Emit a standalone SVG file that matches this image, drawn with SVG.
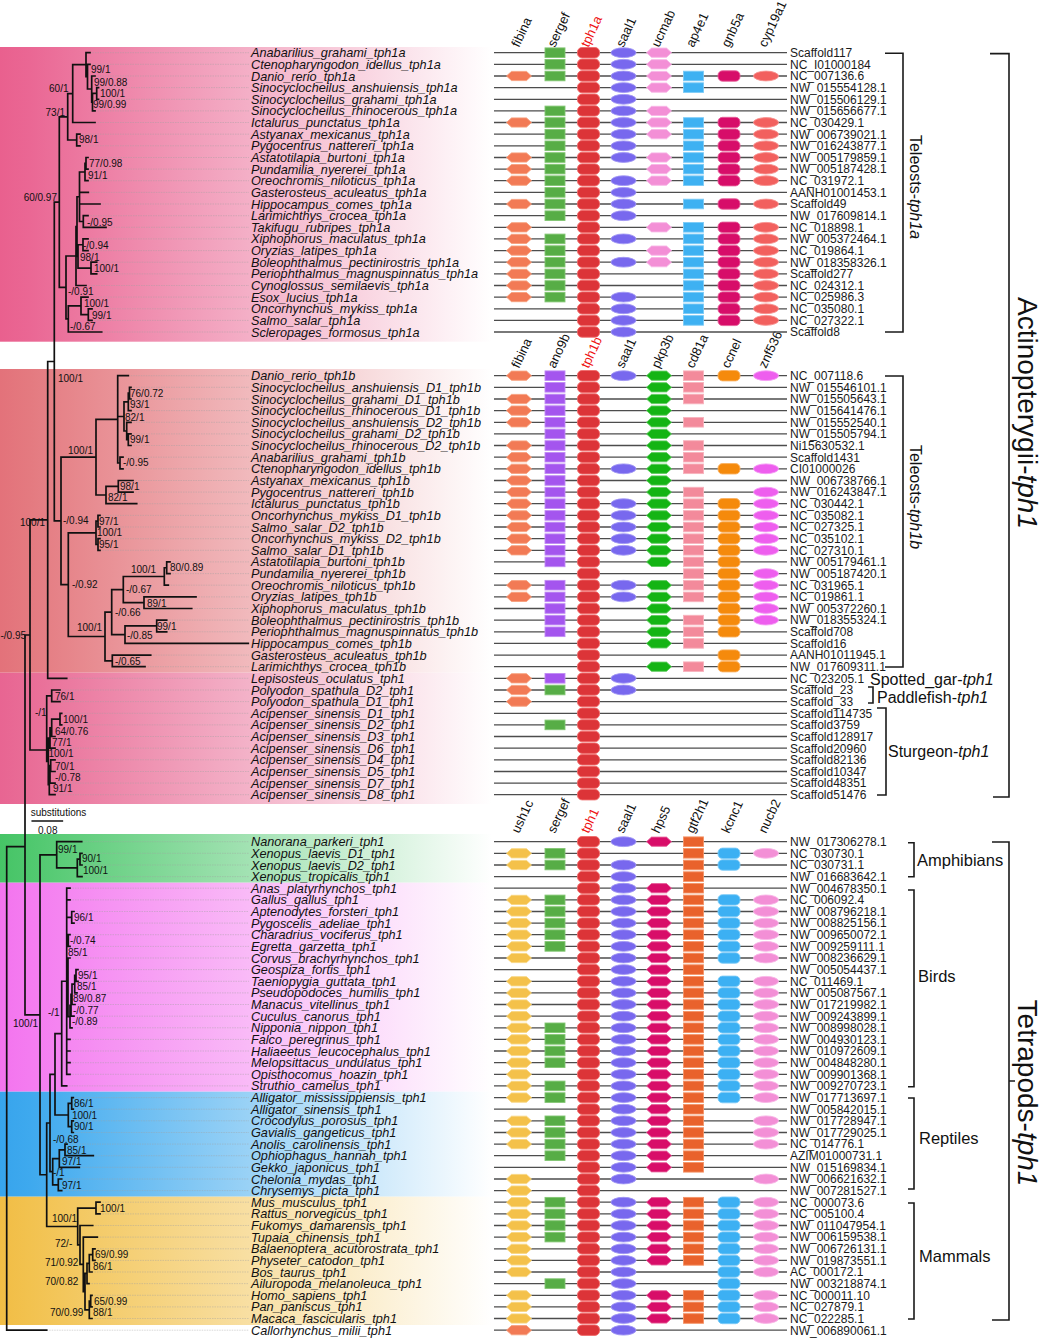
<svg xmlns="http://www.w3.org/2000/svg" width="1041" height="1339" viewBox="0 0 1041 1339">
<style>
.ln{stroke:#4d4d4d;stroke-width:1.3;fill:none}
.acc{font-family:"Liberation Sans",Arial,sans-serif;font-size:12px;fill:#1a1a1a}
.sp{font-family:"Liberation Sans",Arial,sans-serif;font-size:12.7px;font-style:italic;fill:#111}
.bs{font-family:"Liberation Sans",Arial,sans-serif;font-size:10px;fill:#111}
.gh{font-family:"Liberation Sans",Arial,sans-serif;font-size:13px;fill:#111}
.red{fill:#ee1111}
.tr{fill:none;stroke:#111;stroke-width:1.7;stroke-linecap:square}
.ld{fill:none;stroke:#a0a0a0;stroke-width:0.6;stroke-dasharray:1.5 1;opacity:.7}
.br{fill:none;stroke:#1a1a1a;stroke-width:1.6}
.bl{font-family:"Liberation Sans",Arial,sans-serif;font-size:16.5px;fill:#111}
.big{font-family:"Liberation Sans",Arial,sans-serif;font-size:28px;fill:#111}
.it{font-style:italic}
</style>
<defs>
<linearGradient id="gA" x1="0" x2="1" y1="0" y2="0"><stop offset="0" stop-color="#e9608e"/><stop offset=".06" stop-color="#ea6794"/><stop offset="1" stop-color="#fff"/></linearGradient>
<linearGradient id="gB" x1="0" x2="1" y1="0" y2="0"><stop offset="0" stop-color="#e3727a"/><stop offset=".06" stop-color="#e47a80"/><stop offset="1" stop-color="#fff"/></linearGradient>
<linearGradient id="gC" x1="0" x2="1" y1="0" y2="0"><stop offset="0" stop-color="#e86592"/><stop offset=".06" stop-color="#e96d97"/><stop offset="1" stop-color="#fff"/></linearGradient>
<linearGradient id="gD" x1="0" x2="1" y1="0" y2="0"><stop offset="0" stop-color="#46c466"/><stop offset=".06" stop-color="#4fc86e"/><stop offset="1" stop-color="#fff"/></linearGradient>
<linearGradient id="gE" x1="0" x2="1" y1="0" y2="0"><stop offset="0" stop-color="#f374ee"/><stop offset=".06" stop-color="#f47cf0"/><stop offset="1" stop-color="#fff"/></linearGradient>
<linearGradient id="gF" x1="0" x2="1" y1="0" y2="0"><stop offset="0" stop-color="#37a4ec"/><stop offset=".06" stop-color="#3ea9ee"/><stop offset="1" stop-color="#fff"/></linearGradient>
<linearGradient id="gG" x1="0" x2="1" y1="0" y2="0"><stop offset="0" stop-color="#f1bd45"/><stop offset=".06" stop-color="#f2c24f"/><stop offset="1" stop-color="#fff"/></linearGradient>
<polygon id="hx" points="-12.5,0 -7.5,-4.6 7.5,-4.6 12.5,0 7.5,4.6 -7.5,4.6" stroke-width="0.9"/>
<rect id="rc" x="-10" y="-4.8" width="20" height="9.6" stroke-width="0.9"/>
<rect id="pl" x="-11" y="-5.2" width="22" height="10.4" rx="4.5" stroke-width="0.9"/>
<ellipse id="el" rx="12.5" ry="4.9" stroke-width="0.9"/>
<use id="fib" href="#hx" fill="#f27a55" stroke="#f7a07e"/>
<use id="serg" href="#rc" fill="#57ad46" stroke="#83c673"/>
<use id="tph" href="#pl" fill="#dc3438" stroke="#ef6a6a"/>
<use id="saal" href="#el" fill="#7868ee" stroke="#a096f4"/>
<use id="ucm" href="#hx" fill="#f38fd6" stroke="#f8b6e6"/>
<use id="ap4" href="#rc" fill="#3eb1f2" stroke="#7ccbf7"/>
<use id="gnb" href="#pl" fill="#d70d69" stroke="#e65d98"/>
<use id="cyp" href="#el" fill="#f2605e" stroke="#f79290"/>
<use id="ano" href="#rc" fill="#a455ee" stroke="#c18cf4"/>
<use id="pkp" href="#hx" fill="#14b414" stroke="#5fcc5f"/>
<use id="cd8" href="#rc" fill="#f38a9b" stroke="#f8b3bd"/>
<use id="ccn" href="#pl" fill="#f58a0c" stroke="#f9b060"/>
<use id="znf" href="#el" fill="#ee5eee" stroke="#f59cf5"/>
<use id="ush" href="#hx" fill="#f4c14a" stroke="#f8d680"/>
<use id="hps" href="#hx" fill="#d80d69" stroke="#e65d98"/>
<use id="gtf" href="#rc" fill="#e9622c" stroke="#f49468"/>
<use id="kcn" href="#pl" fill="#3cb0f3" stroke="#7ccbf7"/>
<use id="nuc" href="#el" fill="#f38fd6" stroke="#f8b6e6"/>
</defs>
<rect width="1041" height="1339" fill="#fff"/>
<g id="bands">
<rect x="0" y="47" width="492" height="294.7" fill="url(#gA)"/>
<rect x="0" y="369" width="492" height="303.7" fill="url(#gB)"/>
<rect x="0" y="672.7" width="492" height="131.3" fill="url(#gC)"/>
<rect x="0" y="834" width="492" height="48.7" fill="url(#gD)"/>
<rect x="0" y="882.7" width="492" height="209" fill="url(#gE)"/>
<rect x="0" y="1091.7" width="492" height="105" fill="url(#gF)"/>
<rect x="0" y="1196.7" width="492" height="128.3" fill="url(#gG)"/>
</g>
<g id="connectors">
<path class="ld" d="M90 52.7H249M90 64.3H249M95 76H249M98.5 87.6H249M98.5 99.3H249M95 110.9H249M95 122.5H249M80 134.2H249M80 145.8H249M88 157.5H249M88 169.1H249M88 180.7H249M88.3 192.4H249M100 204H249M88 215.7H249M106 227.3H249M88 238.9H249M88 250.6H249M96.7 262.2H249M96.7 273.9H249M86 285.5H249M88 297.1H249M92 308.8H249M92 320.4H249M101.7 332H249M128.3 375.7H249M131 387.3H249M131 399H249M131 410.6H249M131 422.3H249M131 433.9H249M131 445.5H249M123 457.2H249M123 468.8H249M133 480.5H249M133 492.1H249M136.7 503.7H249M100 515.4H249M100 527H249M100 538.7H249M100 550.3H249M170 561.9H249M170 573.6H249M168.3 585.2H249M196 596.9H249M191.7 608.5H249M166.7 620.1H249M166.7 631.8H249M150.7 655.1H249M145 666.7H249M66.7 678.3H249M60 690H249M60 701.6H249M61.7 713.3H249M61.7 724.9H249M55 736.5H249M55 748.2H249M55 759.8H249M55 771.5H249M55 783.1H249M55 794.7H249M81.7 841.7H249M82 853.3H249M82 865H249M82 876.6H249M70 888.2H249M70 899.9H249M74 911.5H249M74 923.1H249M70 934.7H249M70 946.4H249M70 958H249M78 969.6H249M78 981.3H249M77 992.9H249M75 1004.5H249M74 1016.2H249M72 1027.8H249M70 1039.4H249M70 1051H249M70 1062.7H249M70 1074.3H249M66.7 1085.9H249M73.3 1097.6H249M73.3 1109.2H249M73.3 1120.8H249M73.3 1132.5H249M67 1144.1H249M93.3 1155.7H249M79.3 1167.3H249M61.7 1179H249M61.7 1190.6H249M100 1202.2H249M100 1213.9H249M92.7 1225.5H249M97.3 1237.1H249M95 1248.8H249M95 1260.4H249M92 1272H249M89 1283.6H249M92 1295.3H249M92 1306.9H249M92 1318.5H249M46.7 1330.2H249"/>
<path class="tr" d="M86 52.7V76.7M86 52.7H90M86 76.7H87.5M87.5 64.3V89M87.5 64.3H90M87.5 89H91.7M91.7 76V102.2M91.7 76H95M91.7 102.2H92.5M92.5 93.4V110.9M92.5 110.9H95M92.5 93.4H96.7M96.7 87.6V99.3M96.7 87.6H98.5M96.7 99.3H98.5
M72.7 64.7V122.5M72.7 64.7H86M72.7 122.5H95
M76.7 134.2V145.8M76.7 134.2H80M76.7 145.8H80
M67.7 93.6V140M67.7 93.6H72.7M67.7 140H76.7
M86 157.5V169.1M86 157.5H88M86 169.1H88M85 163.3V180.7M85 163.3H86M85 180.7H88
M79.5 172V221.5M79.5 172H85M79.5 192.4H88.3M79.5 204H100M79.5 221.5H83.3
M83.3 215.7V227.3M83.3 215.7H88M83.3 227.3H106
M83 238.9V250.6M83 238.9H88M83 250.6H88
M91 262.2V273.9M91 262.2H96.7M91 273.9H96.7
M78 244.75V268.05M78 244.75H83M78 268.05H91
M77 196.75V256.4M77 196.75H79.5M77 256.4H78
M76 226.6V285.5M76 226.6H77M76 285.5H86
M88.3 308.8V320.4M88.3 308.8H92M88.3 320.4H92
M81 297.1V314.6M81 297.1H88M81 314.6H88.3
M68.3 305.85V332M68.3 305.85H81M68.3 332H101.7
M66 256V318.9M66 256H76M66 318.9H68.3
M59.3 116.8V287.45M59.3 116.8H67.7M59.3 287.45H66
M117.7 375.7V463M117.7 375.7H128.3M117.7 416.5H124M117.7 463H120
M129.5 387.3V399M129.5 387.3H131M129.5 399H131M128.3 393.15V410.6M128.3 393.15H129.5M128.3 410.6H131
M128.3 433.9V445.5M128.3 433.9H131M128.3 445.5H131M126.7 422.3V439.7M126.7 422.3H131M126.7 439.7H128.3
M124 401.9V431M124 401.9H128.3M124 431H126.7
M120 457.2V468.8M120 457.2H123M120 468.8H123
M118.3 480.5V492.1M118.3 480.5H133M118.3 492.1H133M106 486.3V503.7M106 486.3H118.3M106 503.7H136.7
M96 419.4V495M96 419.4H117.7M96 495H106
M98 515.4V527M98 515.4H100M98 527H100M98 538.7V550.3M98 538.7H100M98 550.3H100M96 521.2V544.5M96 521.2H98M96 544.5H98
M166.7 561.9V573.6M166.7 561.9H170M166.7 573.6H170M164.3 567.75V585.2M164.3 567.75H166.7M164.3 585.2H168.3
M144 596.9V608.5M144 596.9H196M144 608.5H191.7
M123.3 576.5V602.7M123.3 576.5H164.3M123.3 602.7H144
M156.7 620.1V631.8M156.7 620.1H166.7M156.7 631.8H166.7
M125 625.95V643.4M125 625.95H156.7M125 643.4H248.3
M111.7 589.6V634.7M111.7 589.6H123.3M111.7 634.7H125
M112.3 655.1V666.7M112.3 655.1H150.7M112.3 666.7H145
M105 612.15V660.9M105 612.15H111.7M105 660.9H112.3
M68.3 532.85V636.5M68.3 532.85H96M68.3 636.5H105
M61 457.2V584.7M61 457.2H96M61 584.7H68.3
M54.3 202.1V520.95M54.3 202.1H59.3M54.3 520.95H61
M47.7 361.5V678.3M47.7 361.5H54.3M47.7 678.3H66.7
M51.7 690V701.6M51.7 690H60M51.7 701.6H60
M60 713.3V724.9M60 713.3H61.7M60 724.9H61.7M51.7 719.1V736.5M51.7 719.1H60M51.7 736.5H55M50 727.8V748.2M50 727.8H51.7M50 748.2H55
M50.7 759.8V771.5M50.7 759.8H55M50.7 771.5H55M50 765.65V783.1M50 765.65H50.7M50 783.1H55M49.3 774.4V794.7M49.3 774.4H50M49.3 794.7H55
M48.3 738V784.55M48.3 738H50M48.3 784.55H49.3
M46.7 695.8V761.3M46.7 695.8H51.7
M30 519.9V750M30 519.9H47.7M30 750H46.7
M25 635V1014.8M25 635H30M25 1014.8H40
M6.7 846.7V1330.2M6.7 846.7H25M6.7 1330.2H46.7
M80 853.3V865M80 853.3H82M80 865H82M77.3 859.15V876.6M77.3 859.15H80M77.3 876.6H82M56.7 841.7V867.9M56.7 841.7H81.7M56.7 867.9H77.3
M71.7 911.5V923.1M71.7 911.5H74M71.7 923.1H74M68.3 934.7V946.4M68.3 934.7H70M68.3 946.4H70
M76 969.6V981.3M76 969.6H78M76 981.3H78M74.7 975.45V992.9M74.7 975.45H76M74.7 992.9H77M72 984.2V1004.5M72 984.2H74.7M72 1004.5H75M71 994.35V1016.2M71 994.35H72M71 1016.2H74M70 1005.3V1027.8M70 1005.3H71M70 1027.8H72M68 958V1016.55M68 958H70M68 1016.55H70
M66.7 888.2V1074.3M66.7 888.2H70M66.7 899.9H70M66.7 917.3H71.7M66.7 940.55H68.3M66.7 987.3H68M66.7 1039.4H70M66.7 1051H70M66.7 1062.7H70M66.7 1074.3H70
M61.7 981.25V1085.9M61.7 981.25H66.7M61.7 1085.9H66.7
M71.7 1097.6V1109.2M71.7 1097.6H73.3M71.7 1109.2H73.3M71.7 1120.8V1132.5M71.7 1120.8H73.3M71.7 1132.5H73.3M68.3 1103.4V1126.65M68.3 1103.4H71.7M68.3 1126.65H71.7
M55 1033.6V1115M55 1033.6H61.7M55 1115H68.3
M65 1144.1V1155.7M65 1144.1H67M65 1155.7H93.3M59.3 1149.9V1167.3M59.3 1149.9H65M59.3 1167.3H79.3
M58.3 1179V1190.6M58.3 1179H61.7M58.3 1190.6H61.7M52.7 1158.6V1184.8M52.7 1158.6H59.3M52.7 1184.8H58.3
M50 1074.3V1171.7M50 1074.3H55M50 1171.7H52.7
M96 1202.2V1213.9M96 1202.2H100M96 1213.9H100M92.7 1248.8V1260.4M92.7 1248.8H95M92.7 1260.4H95M89.3 1254.6V1272M89.3 1254.6H92.7M89.3 1272H92
M90.7 1295.3V1306.9M90.7 1295.3H92M90.7 1306.9H92M89.3 1301.1V1318.5M89.3 1301.1H90.7M89.3 1318.5H92
M87 1263.3V1283.6M87 1263.3H89.3M87 1283.6H89M85 1273.45V1309.8M85 1273.45H87M85 1309.8H89.3M83.3 1237.1V1291.6M83.3 1237.1H97.3M83.3 1291.6H85M80 1225.5V1264.35M80 1225.5H92.7M80 1264.35H83.3M77.7 1208.05V1244.9M77.7 1208.05H96M77.7 1244.9H80
M46.7 1123V1226.5M46.7 1123H50M46.7 1226.5H77.7
M40 854.8V1174.75M40 854.8H56.7M40 1174.75H46.7"/>
<path class="tr" d="M32.3 821H62.3"/>
</g>
<g id="support" class="bs">
<text x="91" y="72.5">99/1</text><text x="94" y="86">99/0.88</text><text x="100" y="97">100/1</text><text x="93" y="108">99/0.99</text>
<text x="68.5" y="92" text-anchor="end">60/1</text><text x="65" y="115.5" text-anchor="end">73/1</text><text x="79" y="143">98/1</text>
<text x="89" y="167">77/0.98</text><text x="88" y="178.5">91/1</text><text x="57" y="200.5" text-anchor="end">60/0.97</text>
<text x="87" y="225.5">-/0.95</text><text x="83" y="249">-/0.94</text><text x="80" y="261">98/1</text><text x="94" y="272">100/1</text>
<text x="68" y="294.5">-/0.91</text><text x="84" y="307">100/1</text><text x="92" y="318.5">99/1</text><text x="70" y="329.5">-/0.67</text>
<text x="58" y="381.5">100/1</text><text x="130" y="396.5">76/0.72</text><text x="130" y="408">93/1</text><text x="125" y="421">82/1</text><text x="130" y="442.5">99/1</text>
<text x="93" y="454" text-anchor="end">100/1</text><text x="123" y="466">-/0.95</text><text x="120" y="490">98/1</text><text x="108" y="501">82/1</text>
<text x="45" y="525.5" text-anchor="end">100/1</text><text x="63" y="524">-/0.94</text><text x="99" y="524.5">97/1</text><text x="97" y="536">100/1</text><text x="99" y="547.5">95/1</text>
<text x="170" y="571">80/0.89</text><text x="131" y="573">100/1</text><text x="72" y="588">-/0.92</text><text x="126" y="593">-/0.67</text><text x="147" y="607">89/1</text>
<text x="115" y="615.5">-/0.66</text><text x="157" y="629.5">99/1</text><text x="102" y="631" text-anchor="end">100/1</text><text x="0.5" y="638.5">-/0.95</text><text x="127" y="638.5">-/0.85</text><text x="115" y="664.5">-/0.65</text>
<text x="55" y="700">76/1</text><text x="35" y="715.5">-/1</text><text x="63" y="722.5">100/1</text><text x="55" y="734.5">64/0.76</text><text x="52" y="745.5">77/1</text><text x="48.5" y="756.5">100/1</text>
<text x="55" y="769.5">70/1</text><text x="55" y="780.5">-/0.78</text><text x="53" y="792">91/1</text>
<text x="58" y="852.5">99/1</text><text x="82" y="862">90/1</text><text x="83" y="874">100/1</text>
<text x="74" y="921">96/1</text><text x="70" y="944">-/0.74</text><text x="68" y="956">85/1</text><text x="78" y="978.5">95/1</text><text x="77" y="990">85/1</text><text x="73" y="1002">89/0.87</text>
<text x="73" y="1013.5">-/0.77</text><text x="48" y="1015.5">-/1</text><text x="72" y="1025">-/0.89</text><text x="13" y="1027">100/1</text>
<text x="74" y="1107">86/1</text><text x="72" y="1118.5">100/1</text><text x="74" y="1130">90/1</text><text x="53" y="1143">-/0.68</text><text x="67" y="1153.5">85/1</text><text x="62" y="1165">97/1</text><text x="53" y="1175.5">-/1</text><text x="62" y="1188.5">97/1</text>
<text x="100" y="1212">100/1</text><text x="52" y="1222">100/1</text><text x="55" y="1246.5">72/-</text><text x="95" y="1257.5">69/0.99</text><text x="45" y="1266">71/0.92</text><text x="93" y="1269.5">86/1</text>
<text x="45" y="1284.5">70/0.82</text><text x="94" y="1304.5">65/0.99</text><text x="50" y="1316">70/0.99</text><text x="93" y="1315.5">88/1</text>
<text x="30.7" y="815.5">substitutions</text><text x="38" y="833.5">0.08</text>
</g>
<g id="gene-headers" class="gh">
<text transform="translate(519,48) rotate(-65)">fibina</text><text transform="translate(555,48) rotate(-65)">sergef</text><text class="red" transform="translate(588.5,48) rotate(-65)">tph1a</text><text transform="translate(623.5,48) rotate(-65)">saal1</text><text transform="translate(659,48) rotate(-65)">ucmab</text><text transform="translate(693.5,48) rotate(-65)">ap4e1</text><text transform="translate(729,48) rotate(-65)">gnb5a</text><text transform="translate(766,48) rotate(-65)">cyp19a1</text>
<text transform="translate(519,369) rotate(-65)">fibina</text><text transform="translate(555,369) rotate(-65)">ano9b</text><text class="red" transform="translate(588.5,369) rotate(-65)">tph1b</text><text transform="translate(623.5,369) rotate(-65)">saal1</text><text transform="translate(659,369) rotate(-65)">pkp3b</text><text transform="translate(693.5,369) rotate(-65)">cd81a</text><text transform="translate(729,369) rotate(-65)">ccnel</text><text transform="translate(766,369) rotate(-65)">znf536</text>
<text transform="translate(519,834) rotate(-65)">ush1c</text><text transform="translate(555,834) rotate(-65)">sergef</text><text class="red" transform="translate(588.5,834) rotate(-65)">tph1</text><text transform="translate(623.5,834) rotate(-65)">saal1</text><text transform="translate(659,834) rotate(-65)">hps5</text><text transform="translate(693.5,834) rotate(-65)">gtf2h1</text><text transform="translate(729,834) rotate(-65)">kcnc1</text><text transform="translate(766,834) rotate(-65)">nucb2</text>
</g>
<g id="rows">
<g id="t0" transform="translate(0,52.7)"><text class="sp" x="251" y="4.5">Anabarilius_grahami_tph1a</text><path class="ln" d="M494 0H787"/><use href="#serg" x="555"/><use href="#tph" x="588.5"/><use href="#saal" x="623.5"/><use href="#ucm" x="659"/><text class="acc" x="790" y="4.3">Scaffold117</text></g>
<g id="t1" transform="translate(0,64.3)"><text class="sp" x="251" y="4.5">Ctenopharyngodon_idellus_tph1a</text><path class="ln" d="M494 0H787"/><use href="#serg" x="555"/><use href="#tph" x="588.5"/><use href="#saal" x="623.5"/><use href="#ucm" x="659"/><text class="acc" x="790" y="4.3">NC_I01000184</text></g>
<g id="t2" transform="translate(0,76)"><text class="sp" x="251" y="4.5">Danio_rerio_tph1a</text><path class="ln" d="M494 0H787"/><use href="#fib" x="519"/><use href="#serg" x="555"/><use href="#tph" x="588.5"/><use href="#saal" x="623.5"/><use href="#ucm" x="659"/><use href="#ap4" x="693.5"/><use href="#gnb" x="729"/><use href="#cyp" x="766"/><text class="acc" x="790" y="4.3">NC_007136.6</text></g>
<g id="t3" transform="translate(0,87.6)"><text class="sp" x="251" y="4.5">Sinocyclocheilus_anshuiensis_tph1a</text><path class="ln" d="M494 0H787"/><use href="#tph" x="588.5"/><use href="#saal" x="623.5"/><use href="#ucm" x="659"/><use href="#ap4" x="693.5"/><text class="acc" x="790" y="4.3">NW_015554128.1</text></g>
<g id="t4" transform="translate(0,99.3)"><text class="sp" x="251" y="4.5">Sinocyclocheilus_grahami_tph1a</text><path class="ln" d="M494 0H787"/><use href="#tph" x="588.5"/><use href="#saal" x="623.5"/><text class="acc" x="790" y="4.3">NW_015506129.1</text></g>
<g id="t5" transform="translate(0,110.9)"><text class="sp" x="251" y="4.5">Sinocyclocheilus_rhinocerous_tph1a</text><path class="ln" d="M494 0H787"/><use href="#serg" x="555"/><use href="#tph" x="588.5"/><use href="#saal" x="623.5"/><use href="#ucm" x="659"/><text class="acc" x="790" y="4.3">NW_015656677.1</text></g>
<g id="t6" transform="translate(0,122.5)"><text class="sp" x="251" y="4.5">Ictalurus_punctatus_tph1a</text><path class="ln" d="M494 0H787"/><use href="#fib" x="519"/><use href="#serg" x="555"/><use href="#tph" x="588.5"/><use href="#saal" x="623.5"/><use href="#ucm" x="659"/><use href="#ap4" x="693.5"/><use href="#gnb" x="729"/><use href="#cyp" x="766"/><text class="acc" x="790" y="4.3">NC_030429.1</text></g>
<g id="t7" transform="translate(0,134.2)"><text class="sp" x="251" y="4.5">Astyanax_mexicanus_tph1a</text><path class="ln" d="M494 0H787"/><use href="#serg" x="555"/><use href="#tph" x="588.5"/><use href="#saal" x="623.5"/><use href="#ucm" x="659"/><use href="#ap4" x="693.5"/><use href="#gnb" x="729"/><use href="#cyp" x="766"/><text class="acc" x="790" y="4.3">NW_006739021.1</text></g>
<g id="t8" transform="translate(0,145.8)"><text class="sp" x="251" y="4.5">Pygocentrus_nattereri_tph1a</text><path class="ln" d="M494 0H787"/><use href="#serg" x="555"/><use href="#tph" x="588.5"/><use href="#saal" x="623.5"/><use href="#ap4" x="693.5"/><use href="#gnb" x="729"/><use href="#cyp" x="766"/><text class="acc" x="790" y="4.3">NW_016243877.1</text></g>
<g id="t9" transform="translate(0,157.5)"><text class="sp" x="251" y="4.5">Astatotilapia_burtoni_tph1a</text><path class="ln" d="M494 0H787"/><use href="#fib" x="519"/><use href="#serg" x="555"/><use href="#tph" x="588.5"/><use href="#saal" x="623.5"/><use href="#ucm" x="659"/><use href="#ap4" x="693.5"/><use href="#gnb" x="729"/><use href="#cyp" x="766"/><text class="acc" x="790" y="4.3">NW_005179859.1</text></g>
<g id="t10" transform="translate(0,169.1)"><text class="sp" x="251" y="4.5">Pundamilia_nyererei_tph1a</text><path class="ln" d="M494 0H787"/><use href="#fib" x="519"/><use href="#serg" x="555"/><use href="#tph" x="588.5"/><use href="#ucm" x="659"/><use href="#ap4" x="693.5"/><use href="#gnb" x="729"/><use href="#cyp" x="766"/><text class="acc" x="790" y="4.3">NW_005187428.1</text></g>
<g id="t11" transform="translate(0,180.7)"><text class="sp" x="251" y="4.5">Oreochromis_niloticus_tph1a</text><path class="ln" d="M494 0H787"/><use href="#fib" x="519"/><use href="#serg" x="555"/><use href="#tph" x="588.5"/><use href="#saal" x="623.5"/><use href="#ucm" x="659"/><use href="#ap4" x="693.5"/><use href="#gnb" x="729"/><use href="#cyp" x="766"/><text class="acc" x="790" y="4.3">NC_031972.1</text></g>
<g id="t12" transform="translate(0,192.4)"><text class="sp" x="251" y="4.5">Gasterosteus_aculeatus_tph1a</text><path class="ln" d="M494 0H787"/><use href="#serg" x="555"/><use href="#tph" x="588.5"/><use href="#saal" x="623.5"/><text class="acc" x="790" y="4.3">AANH01001453.1</text></g>
<g id="t13" transform="translate(0,204)"><text class="sp" x="251" y="4.5">Hippocampus_comes_tph1a</text><path class="ln" d="M494 0H787"/><use href="#fib" x="519"/><use href="#serg" x="555"/><use href="#tph" x="588.5"/><use href="#saal" x="623.5"/><use href="#ap4" x="693.5"/><use href="#gnb" x="729"/><use href="#cyp" x="766"/><text class="acc" x="790" y="4.3">Scaffold49</text></g>
<g id="t14" transform="translate(0,215.7)"><text class="sp" x="251" y="4.5">Larimichthys_crocea_tph1a</text><path class="ln" d="M494 0H787"/><use href="#serg" x="555"/><use href="#tph" x="588.5"/><use href="#saal" x="623.5"/><text class="acc" x="790" y="4.3">NW_017609814.1</text></g>
<g id="t15" transform="translate(0,227.3)"><text class="sp" x="251" y="4.5">Takifugu_rubripes_tph1a</text><path class="ln" d="M494 0H787"/><use href="#fib" x="519"/><use href="#tph" x="588.5"/><use href="#ucm" x="659"/><use href="#ap4" x="693.5"/><use href="#gnb" x="729"/><use href="#cyp" x="766"/><text class="acc" x="790" y="4.3">NC_018898.1</text></g>
<g id="t16" transform="translate(0,238.9)"><text class="sp" x="251" y="4.5">Xiphophorus_maculatus_tph1a</text><path class="ln" d="M494 0H787"/><use href="#fib" x="519"/><use href="#serg" x="555"/><use href="#tph" x="588.5"/><use href="#saal" x="623.5"/><use href="#ap4" x="693.5"/><use href="#gnb" x="729"/><use href="#cyp" x="766"/><text class="acc" x="790" y="4.3">NW_005372464.1</text></g>
<g id="t17" transform="translate(0,250.6)"><text class="sp" x="251" y="4.5">Oryzias_latipes_tph1a</text><path class="ln" d="M494 0H787"/><use href="#fib" x="519"/><use href="#serg" x="555"/><use href="#tph" x="588.5"/><use href="#ucm" x="659"/><use href="#ap4" x="693.5"/><use href="#gnb" x="729"/><use href="#cyp" x="766"/><text class="acc" x="790" y="4.3">NC_019864.1</text></g>
<g id="t18" transform="translate(0,262.2)"><text class="sp" x="251" y="4.5">Boleophthalmus_pectinirostris_tph1a</text><path class="ln" d="M494 0H787"/><use href="#fib" x="519"/><use href="#serg" x="555"/><use href="#tph" x="588.5"/><use href="#saal" x="623.5"/><use href="#ucm" x="659"/><use href="#ap4" x="693.5"/><use href="#gnb" x="729"/><use href="#cyp" x="766"/><text class="acc" x="790" y="4.3">NW_018358326.1</text></g>
<g id="t19" transform="translate(0,273.9)"><text class="sp" x="251" y="4.5">Periophthalmus_magnuspinnatus_tph1a</text><path class="ln" d="M494 0H787"/><use href="#fib" x="519"/><use href="#serg" x="555"/><use href="#tph" x="588.5"/><use href="#ap4" x="693.5"/><use href="#gnb" x="729"/><use href="#cyp" x="766"/><text class="acc" x="790" y="4.3">Scaffold277</text></g>
<g id="t20" transform="translate(0,285.5)"><text class="sp" x="251" y="4.5">Cynoglossus_semilaevis_tph1a</text><path class="ln" d="M494 0H787"/><use href="#fib" x="519"/><use href="#serg" x="555"/><use href="#tph" x="588.5"/><use href="#ap4" x="693.5"/><use href="#gnb" x="729"/><use href="#cyp" x="766"/><text class="acc" x="790" y="4.3">NC_024312.1</text></g>
<g id="t21" transform="translate(0,297.1)"><text class="sp" x="251" y="4.5">Esox_lucius_tph1a</text><path class="ln" d="M494 0H787"/><use href="#fib" x="519"/><use href="#serg" x="555"/><use href="#tph" x="588.5"/><use href="#saal" x="623.5"/><use href="#ap4" x="693.5"/><use href="#gnb" x="729"/><use href="#cyp" x="766"/><text class="acc" x="790" y="4.3">NC_025986.3</text></g>
<g id="t22" transform="translate(0,308.8)"><text class="sp" x="251" y="4.5">Oncorhynchus_mykiss_tph1a</text><path class="ln" d="M494 0H787"/><use href="#tph" x="588.5"/><use href="#saal" x="623.5"/><use href="#ap4" x="693.5"/><use href="#gnb" x="729"/><use href="#cyp" x="766"/><text class="acc" x="790" y="4.3">NC_035080.1</text></g>
<g id="t23" transform="translate(0,320.4)"><text class="sp" x="251" y="4.5">Salmo_salar_tph1a</text><path class="ln" d="M494 0H787"/><use href="#tph" x="588.5"/><use href="#saal" x="623.5"/><use href="#ap4" x="693.5"/><use href="#gnb" x="729"/><use href="#cyp" x="766"/><text class="acc" x="790" y="4.3">NC_027322.1</text></g>
<g id="t24" transform="translate(0,332)"><text class="sp" x="251" y="4.5">Scleropages_formosus_tph1a</text><path class="ln" d="M494 0H787"/><use href="#tph" x="588.5"/><use href="#saal" x="623.5"/><text class="acc" x="790" y="4.3">Scaffold8</text></g>

<g id="m0" transform="translate(0,375.7)"><text class="sp" x="251" y="4.5">Danio_rerio_tph1b</text><path class="ln" d="M494 0H787"/><use href="#fib" x="519"/><use href="#ano" x="555"/><use href="#tph" x="588.5"/><use href="#saal" x="623.5"/><use href="#pkp" x="659"/><use href="#cd8" x="693.5"/><use href="#ccn" x="729"/><use href="#znf" x="766"/><text class="acc" x="790" y="4.3">NC_007118.6</text></g>
<g id="m1" transform="translate(0,387.3)"><text class="sp" x="251" y="4.5">Sinocyclocheilus_anshuiensis_D1_tph1b</text><path class="ln" d="M494 0H787"/><use href="#ano" x="555"/><use href="#tph" x="588.5"/><use href="#pkp" x="659"/><use href="#cd8" x="693.5"/><text class="acc" x="790" y="4.3">NW_015546101.1</text></g>
<g id="m2" transform="translate(0,399)"><text class="sp" x="251" y="4.5">Sinocyclocheilus_grahami_D1_tph1b</text><path class="ln" d="M494 0H787"/><use href="#fib" x="519"/><use href="#ano" x="555"/><use href="#tph" x="588.5"/><use href="#pkp" x="659"/><use href="#cd8" x="693.5"/><text class="acc" x="790" y="4.3">NW_015505643.1</text></g>
<g id="m3" transform="translate(0,410.6)"><text class="sp" x="251" y="4.5">Sinocyclocheilus_rhinocerous_D1_tph1b</text><path class="ln" d="M494 0H787"/><use href="#fib" x="519"/><use href="#ano" x="555"/><use href="#tph" x="588.5"/><use href="#pkp" x="659"/><text class="acc" x="790" y="4.3">NW_015641476.1</text></g>
<g id="m4" transform="translate(0,422.3)"><text class="sp" x="251" y="4.5">Sinocyclocheilus_anshuiensis_D2_tph1b</text><path class="ln" d="M494 0H787"/><use href="#fib" x="519"/><use href="#ano" x="555"/><use href="#tph" x="588.5"/><use href="#pkp" x="659"/><use href="#cd8" x="693.5"/><text class="acc" x="790" y="4.3">NW_015552540.1</text></g>
<g id="m5" transform="translate(0,433.9)"><text class="sp" x="251" y="4.5">Sinocyclocheilus_grahami_D2_tph1b</text><path class="ln" d="M494 0H787"/><use href="#ano" x="555"/><use href="#tph" x="588.5"/><use href="#pkp" x="659"/><text class="acc" x="790" y="4.3">NW_015505794.1</text></g>
<g id="m6" transform="translate(0,445.5)"><text class="sp" x="251" y="4.5">Sinocyclocheilus_rhinocerous_D2_tph1b</text><path class="ln" d="M494 0H787"/><use href="#fib" x="519"/><use href="#ano" x="555"/><use href="#tph" x="588.5"/><use href="#pkp" x="659"/><use href="#cd8" x="693.5"/><text class="acc" x="790" y="4.3">Ni15630532.1</text></g>
<g id="m7" transform="translate(0,457.2)"><text class="sp" x="251" y="4.5">Anabarilius_grahami_tph1b</text><path class="ln" d="M494 0H787"/><use href="#fib" x="519"/><use href="#ano" x="555"/><use href="#tph" x="588.5"/><use href="#pkp" x="659"/><use href="#cd8" x="693.5"/><text class="acc" x="790" y="4.3">Scaffold1431</text></g>
<g id="m8" transform="translate(0,468.8)"><text class="sp" x="251" y="4.5">Ctenopharyngodon_idellus_tph1b</text><path class="ln" d="M494 0H787"/><use href="#fib" x="519"/><use href="#ano" x="555"/><use href="#tph" x="588.5"/><use href="#saal" x="623.5"/><use href="#pkp" x="659"/><use href="#cd8" x="693.5"/><use href="#ccn" x="729"/><use href="#znf" x="766"/><text class="acc" x="790" y="4.3">CI01000026</text></g>
<g id="m9" transform="translate(0,480.5)"><text class="sp" x="251" y="4.5">Astyanax_mexicanus_tph1b</text><path class="ln" d="M494 0H787"/><use href="#fib" x="519"/><use href="#ano" x="555"/><use href="#tph" x="588.5"/><use href="#pkp" x="659"/><text class="acc" x="790" y="4.3">NW_006738766.1</text></g>
<g id="m10" transform="translate(0,492.1)"><text class="sp" x="251" y="4.5">Pygocentrus_nattereri_tph1b</text><path class="ln" d="M494 0H787"/><use href="#fib" x="519"/><use href="#ano" x="555"/><use href="#tph" x="588.5"/><use href="#pkp" x="659"/><use href="#cd8" x="693.5"/><use href="#znf" x="766"/><text class="acc" x="790" y="4.3">NW_016243847.1</text></g>
<g id="m11" transform="translate(0,503.7)"><text class="sp" x="251" y="4.5">Ictalurus_punctatus_tph1b</text><path class="ln" d="M494 0H787"/><use href="#fib" x="519"/><use href="#ano" x="555"/><use href="#tph" x="588.5"/><use href="#saal" x="623.5"/><use href="#pkp" x="659"/><use href="#cd8" x="693.5"/><use href="#ccn" x="729"/><use href="#znf" x="766"/><text class="acc" x="790" y="4.3">NC_030442.1</text></g>
<g id="m12" transform="translate(0,515.4)"><text class="sp" x="251" y="4.5">Oncorhynchus_mykiss_D1_tph1b</text><path class="ln" d="M494 0H787"/><use href="#fib" x="519"/><use href="#ano" x="555"/><use href="#tph" x="588.5"/><use href="#saal" x="623.5"/><use href="#pkp" x="659"/><use href="#cd8" x="693.5"/><use href="#ccn" x="729"/><use href="#znf" x="766"/><text class="acc" x="790" y="4.3">NC_035082.1</text></g>
<g id="m13" transform="translate(0,527)"><text class="sp" x="251" y="4.5">Salmo_salar_D2_tph1b</text><path class="ln" d="M494 0H787"/><use href="#fib" x="519"/><use href="#ano" x="555"/><use href="#tph" x="588.5"/><use href="#saal" x="623.5"/><use href="#pkp" x="659"/><use href="#cd8" x="693.5"/><use href="#ccn" x="729"/><use href="#znf" x="766"/><text class="acc" x="790" y="4.3">NC_027325.1</text></g>
<g id="m14" transform="translate(0,538.7)"><text class="sp" x="251" y="4.5">Oncorhynchus_mykiss_D2_tph1b</text><path class="ln" d="M494 0H787"/><use href="#fib" x="519"/><use href="#ano" x="555"/><use href="#tph" x="588.5"/><use href="#saal" x="623.5"/><use href="#pkp" x="659"/><use href="#cd8" x="693.5"/><use href="#ccn" x="729"/><use href="#znf" x="766"/><text class="acc" x="790" y="4.3">NC_035102.1</text></g>
<g id="m15" transform="translate(0,550.3)"><text class="sp" x="251" y="4.5">Salmo_salar_D1_tph1b</text><path class="ln" d="M494 0H787"/><use href="#fib" x="519"/><use href="#ano" x="555"/><use href="#tph" x="588.5"/><use href="#saal" x="623.5"/><use href="#pkp" x="659"/><use href="#cd8" x="693.5"/><use href="#ccn" x="729"/><use href="#znf" x="766"/><text class="acc" x="790" y="4.3">NC_027310.1</text></g>
<g id="m16" transform="translate(0,561.9)"><text class="sp" x="251" y="4.5">Astatotilapia_burtoni_tph1b</text><path class="ln" d="M494 0H787"/><use href="#ano" x="555"/><use href="#tph" x="588.5"/><use href="#pkp" x="659"/><use href="#cd8" x="693.5"/><use href="#ccn" x="729"/><text class="acc" x="790" y="4.3">NW_005179461.1</text></g>
<g id="m17" transform="translate(0,573.6)"><text class="sp" x="251" y="4.5">Pundamilia_nyererei_tph1b</text><path class="ln" d="M494 0H787"/><use href="#tph" x="588.5"/><use href="#cd8" x="693.5"/><use href="#ccn" x="729"/><use href="#znf" x="766"/><text class="acc" x="790" y="4.3">NW_005187420.1</text></g>
<g id="m18" transform="translate(0,585.2)"><text class="sp" x="251" y="4.5">Oreochromis_niloticus_tph1b</text><path class="ln" d="M494 0H787"/><use href="#fib" x="519"/><use href="#ano" x="555"/><use href="#tph" x="588.5"/><use href="#saal" x="623.5"/><use href="#pkp" x="659"/><use href="#cd8" x="693.5"/><use href="#ccn" x="729"/><use href="#znf" x="766"/><text class="acc" x="790" y="4.3">NC_031965.1</text></g>
<g id="m19" transform="translate(0,596.9)"><text class="sp" x="251" y="4.5">Oryzias_latipes_tph1b</text><path class="ln" d="M494 0H787"/><use href="#fib" x="519"/><use href="#ano" x="555"/><use href="#tph" x="588.5"/><use href="#saal" x="623.5"/><use href="#pkp" x="659"/><use href="#cd8" x="693.5"/><use href="#ccn" x="729"/><use href="#znf" x="766"/><text class="acc" x="790" y="4.3">NC_019861.1</text></g>
<g id="m20" transform="translate(0,608.5)"><text class="sp" x="251" y="4.5">Xiphophorus_maculatus_tph1b</text><path class="ln" d="M494 0H787"/><use href="#ano" x="555"/><use href="#tph" x="588.5"/><use href="#pkp" x="659"/><use href="#ccn" x="729"/><use href="#znf" x="766"/><text class="acc" x="790" y="4.3">NW_005372260.1</text></g>
<g id="m21" transform="translate(0,620.1)"><text class="sp" x="251" y="4.5">Boleophthalmus_pectinirostris_tph1b</text><path class="ln" d="M494 0H787"/><use href="#ano" x="555"/><use href="#tph" x="588.5"/><use href="#pkp" x="659"/><use href="#cd8" x="693.5"/><use href="#ccn" x="729"/><use href="#znf" x="766"/><text class="acc" x="790" y="4.3">NW_018355324.1</text></g>
<g id="m22" transform="translate(0,631.8)"><text class="sp" x="251" y="4.5">Periophthalmus_magnuspinnatus_tph1b</text><path class="ln" d="M494 0H787"/><use href="#ano" x="555"/><use href="#tph" x="588.5"/><use href="#pkp" x="659"/><use href="#cd8" x="693.5"/><use href="#ccn" x="729"/><text class="acc" x="790" y="4.3">Scaffold708</text></g>
<g id="m23" transform="translate(0,643.4)"><text class="sp" x="251" y="4.5">Hippocampus_comes_tph1b</text><path class="ln" d="M494 0H787"/><use href="#tph" x="588.5"/><use href="#pkp" x="659"/><use href="#cd8" x="693.5"/><text class="acc" x="790" y="4.3">Scaffold16</text></g>
<g id="m24" transform="translate(0,655.1)"><text class="sp" x="251" y="4.5">Gasterosteus_aculeatus_tph1b</text><path class="ln" d="M494 0H787"/><use href="#tph" x="588.5"/><use href="#ccn" x="729"/><text class="acc" x="790" y="4.3">AANH01011945.1</text></g>
<g id="m25" transform="translate(0,666.7)"><text class="sp" x="251" y="4.5">Larimichthys_crocea_tph1b</text><path class="ln" d="M494 0H787"/><use href="#tph" x="588.5"/><use href="#pkp" x="659"/><use href="#cd8" x="693.5"/><use href="#ccn" x="729"/><text class="acc" x="790" y="4.3">NW_017609311.1</text></g>
<g id="m26" transform="translate(0,678.3)"><text class="sp" x="251" y="4.5">Lepisosteus_oculatus_tph1</text><path class="ln" d="M494 0H787"/><use href="#fib" x="519"/><use href="#ano" x="555"/><use href="#tph" x="588.5"/><use href="#saal" x="623.5"/><text class="acc" x="790" y="4.3">NC_023205.1</text></g>
<g id="m27" transform="translate(0,690)"><text class="sp" x="251" y="4.5">Polyodon_spathula_D2_tph1</text><path class="ln" d="M494 0H787"/><use href="#fib" x="519"/><use href="#serg" x="555"/><use href="#tph" x="588.5"/><use href="#saal" x="623.5"/><text class="acc" x="790" y="4.3">Scaffold_23</text></g>
<g id="m28" transform="translate(0,701.6)"><text class="sp" x="251" y="4.5">Polyodon_spathula_D1_tph1</text><path class="ln" d="M494 0H787"/><use href="#fib" x="519"/><use href="#tph" x="588.5"/><text class="acc" x="790" y="4.3">Scaffold_33</text></g>
<g id="m29" transform="translate(0,713.3)"><text class="sp" x="251" y="4.5">Acipenser_sinensis_D1_tph1</text><path class="ln" d="M494 0H787"/><use href="#tph" x="588.5"/><text class="acc" x="790" y="4.3">Scaffold114735</text></g>
<g id="m30" transform="translate(0,724.9)"><text class="sp" x="251" y="4.5">Acipenser_sinensis_D2_tph1</text><path class="ln" d="M494 0H787"/><use href="#serg" x="555"/><use href="#tph" x="588.5"/><text class="acc" x="790" y="4.3">Scaffold3759</text></g>
<g id="m31" transform="translate(0,736.5)"><text class="sp" x="251" y="4.5">Acipenser_sinensis_D3_tph1</text><path class="ln" d="M494 0H787"/><use href="#tph" x="588.5"/><text class="acc" x="790" y="4.3">Scaffold128917</text></g>
<g id="m32" transform="translate(0,748.2)"><text class="sp" x="251" y="4.5">Acipenser_sinensis_D6_tph1</text><path class="ln" d="M494 0H787"/><use href="#tph" x="588.5"/><text class="acc" x="790" y="4.3">Scaffold20960</text></g>
<g id="m33" transform="translate(0,759.8)"><text class="sp" x="251" y="4.5">Acipenser_sinensis_D4_tph1</text><path class="ln" d="M494 0H787"/><use href="#tph" x="588.5"/><text class="acc" x="790" y="4.3">Scaffold82136</text></g>
<g id="m34" transform="translate(0,771.5)"><text class="sp" x="251" y="4.5">Acipenser_sinensis_D5_tph1</text><path class="ln" d="M494 0H787"/><use href="#tph" x="588.5"/><text class="acc" x="790" y="4.3">Scaffold10347</text></g>
<g id="m35" transform="translate(0,783.1)"><text class="sp" x="251" y="4.5">Acipenser_sinensis_D7_tph1</text><path class="ln" d="M494 0H787"/><use href="#tph" x="588.5"/><text class="acc" x="790" y="4.3">Scaffold48351</text></g>
<g id="m36" transform="translate(0,794.7)"><text class="sp" x="251" y="4.5">Acipenser_sinensis_D8_tph1</text><path class="ln" d="M494 0H787"/><use href="#tph" x="588.5"/><text class="acc" x="790" y="4.3">Scaffold51476</text></g>

<g id="b0" transform="translate(0,841.7)"><text class="sp" x="251" y="4.5">Nanorana_parkeri_tph1</text><path class="ln" d="M494 0H787"/><use href="#tph" x="588.5"/><use href="#saal" x="623.5"/><use href="#hps" x="659"/><use href="#gtf" x="693.5"/><text class="acc" x="790" y="4.3">NW_017306278.1</text></g>
<g id="b1" transform="translate(0,853.3)"><text class="sp" x="251" y="4.5">Xenopus_laevis_D1_tph1</text><path class="ln" d="M494 0H787"/><use href="#ush" x="519"/><use href="#serg" x="555"/><use href="#tph" x="588.5"/><use href="#gtf" x="693.5"/><use href="#kcn" x="729"/><use href="#nuc" x="766"/><text class="acc" x="790" y="4.3">NC_030730.1</text></g>
<g id="b2" transform="translate(0,865)"><text class="sp" x="251" y="4.5">Xenopus_laevis_D2_tph1</text><path class="ln" d="M494 0H787"/><use href="#ush" x="519"/><use href="#serg" x="555"/><use href="#tph" x="588.5"/><use href="#saal" x="623.5"/><use href="#gtf" x="693.5"/><use href="#kcn" x="729"/><text class="acc" x="790" y="4.3">NC_030731.1</text></g>
<g id="b3" transform="translate(0,876.6)"><text class="sp" x="251" y="4.5">Xenopus_tropicalis_tph1</text><path class="ln" d="M494 0H787"/><use href="#tph" x="588.5"/><use href="#saal" x="623.5"/><use href="#gtf" x="693.5"/><text class="acc" x="790" y="4.3">NW_016683642.1</text></g>
<g id="b4" transform="translate(0,888.2)"><text class="sp" x="251" y="4.5">Anas_platyrhynchos_tph1</text><path class="ln" d="M494 0H787"/><use href="#tph" x="588.5"/><use href="#saal" x="623.5"/><use href="#hps" x="659"/><use href="#gtf" x="693.5"/><text class="acc" x="790" y="4.3">NW_004678350.1</text></g>
<g id="b5" transform="translate(0,899.9)"><text class="sp" x="251" y="4.5">Gallus_gallus_tph1</text><path class="ln" d="M494 0H787"/><use href="#ush" x="519"/><use href="#serg" x="555"/><use href="#tph" x="588.5"/><use href="#saal" x="623.5"/><use href="#hps" x="659"/><use href="#gtf" x="693.5"/><use href="#kcn" x="729"/><use href="#nuc" x="766"/><text class="acc" x="790" y="4.3">NC_006092.4</text></g>
<g id="b6" transform="translate(0,911.5)"><text class="sp" x="251" y="4.5">Aptenodytes_forsteri_tph1</text><path class="ln" d="M494 0H787"/><use href="#ush" x="519"/><use href="#serg" x="555"/><use href="#tph" x="588.5"/><use href="#saal" x="623.5"/><use href="#hps" x="659"/><use href="#gtf" x="693.5"/><use href="#kcn" x="729"/><use href="#nuc" x="766"/><text class="acc" x="790" y="4.3">NW_008796218.1</text></g>
<g id="b7" transform="translate(0,923.1)"><text class="sp" x="251" y="4.5">Pygoscelis_adeliae_tph1</text><path class="ln" d="M494 0H787"/><use href="#ush" x="519"/><use href="#serg" x="555"/><use href="#tph" x="588.5"/><use href="#saal" x="623.5"/><use href="#hps" x="659"/><use href="#gtf" x="693.5"/><use href="#kcn" x="729"/><use href="#nuc" x="766"/><text class="acc" x="790" y="4.3">NW_008825156.1</text></g>
<g id="b8" transform="translate(0,934.7)"><text class="sp" x="251" y="4.5">Charadrius_vociferus_tph1</text><path class="ln" d="M494 0H787"/><use href="#ush" x="519"/><use href="#serg" x="555"/><use href="#tph" x="588.5"/><use href="#saal" x="623.5"/><use href="#hps" x="659"/><use href="#gtf" x="693.5"/><use href="#kcn" x="729"/><use href="#nuc" x="766"/><text class="acc" x="790" y="4.3">NW_009650072.1</text></g>
<g id="b9" transform="translate(0,946.4)"><text class="sp" x="251" y="4.5">Egretta_garzetta_tph1</text><path class="ln" d="M494 0H787"/><use href="#ush" x="519"/><use href="#serg" x="555"/><use href="#tph" x="588.5"/><use href="#saal" x="623.5"/><use href="#hps" x="659"/><use href="#gtf" x="693.5"/><use href="#kcn" x="729"/><use href="#nuc" x="766"/><text class="acc" x="790" y="4.3">NW_009259111.1</text></g>
<g id="b10" transform="translate(0,958)"><text class="sp" x="251" y="4.5">Corvus_brachyrhynchos_tph1</text><path class="ln" d="M494 0H787"/><use href="#ush" x="519"/><use href="#tph" x="588.5"/><use href="#saal" x="623.5"/><use href="#hps" x="659"/><use href="#gtf" x="693.5"/><use href="#kcn" x="729"/><use href="#nuc" x="766"/><text class="acc" x="790" y="4.3">NW_008236629.1</text></g>
<g id="b11" transform="translate(0,969.6)"><text class="sp" x="251" y="4.5">Geospiza_fortis_tph1</text><path class="ln" d="M494 0H787"/><use href="#tph" x="588.5"/><use href="#saal" x="623.5"/><use href="#hps" x="659"/><use href="#gtf" x="693.5"/><text class="acc" x="790" y="4.3">NW_005054437.1</text></g>
<g id="b12" transform="translate(0,981.3)"><text class="sp" x="251" y="4.5">Taeniopygia_guttata_tph1</text><path class="ln" d="M494 0H787"/><use href="#ush" x="519"/><use href="#tph" x="588.5"/><use href="#saal" x="623.5"/><use href="#hps" x="659"/><use href="#gtf" x="693.5"/><use href="#kcn" x="729"/><use href="#nuc" x="766"/><text class="acc" x="790" y="4.3">NC_011469.1</text></g>
<g id="b13" transform="translate(0,992.9)"><text class="sp" x="251" y="4.5">Pseudopodoces_humilis_tph1</text><path class="ln" d="M494 0H787"/><use href="#ush" x="519"/><use href="#tph" x="588.5"/><use href="#saal" x="623.5"/><use href="#hps" x="659"/><use href="#gtf" x="693.5"/><use href="#kcn" x="729"/><use href="#nuc" x="766"/><text class="acc" x="790" y="4.3">NW_005087567.1</text></g>
<g id="b14" transform="translate(0,1004.5)"><text class="sp" x="251" y="4.5">Manacus_vitellinus_tph1</text><path class="ln" d="M494 0H787"/><use href="#ush" x="519"/><use href="#tph" x="588.5"/><use href="#saal" x="623.5"/><use href="#hps" x="659"/><use href="#gtf" x="693.5"/><use href="#kcn" x="729"/><use href="#nuc" x="766"/><text class="acc" x="790" y="4.3">NW_017219982.1</text></g>
<g id="b15" transform="translate(0,1016.2)"><text class="sp" x="251" y="4.5">Cuculus_canorus_tph1</text><path class="ln" d="M494 0H787"/><use href="#ush" x="519"/><use href="#tph" x="588.5"/><use href="#saal" x="623.5"/><use href="#hps" x="659"/><use href="#gtf" x="693.5"/><use href="#kcn" x="729"/><use href="#nuc" x="766"/><text class="acc" x="790" y="4.3">NW_009243899.1</text></g>
<g id="b16" transform="translate(0,1027.8)"><text class="sp" x="251" y="4.5">Nipponia_nippon_tph1</text><path class="ln" d="M494 0H787"/><use href="#ush" x="519"/><use href="#serg" x="555"/><use href="#tph" x="588.5"/><use href="#saal" x="623.5"/><use href="#hps" x="659"/><use href="#gtf" x="693.5"/><use href="#kcn" x="729"/><use href="#nuc" x="766"/><text class="acc" x="790" y="4.3">NW_008998028.1</text></g>
<g id="b17" transform="translate(0,1039.4)"><text class="sp" x="251" y="4.5">Falco_peregrinus_tph1</text><path class="ln" d="M494 0H787"/><use href="#ush" x="519"/><use href="#serg" x="555"/><use href="#tph" x="588.5"/><use href="#saal" x="623.5"/><use href="#hps" x="659"/><use href="#gtf" x="693.5"/><use href="#kcn" x="729"/><use href="#nuc" x="766"/><text class="acc" x="790" y="4.3">NW_004930123.1</text></g>
<g id="b18" transform="translate(0,1051)"><text class="sp" x="251" y="4.5">Haliaeetus_leucocephalus_tph1</text><path class="ln" d="M494 0H787"/><use href="#ush" x="519"/><use href="#serg" x="555"/><use href="#tph" x="588.5"/><use href="#saal" x="623.5"/><use href="#hps" x="659"/><use href="#gtf" x="693.5"/><use href="#kcn" x="729"/><use href="#nuc" x="766"/><text class="acc" x="790" y="4.3">NW_010972609.1</text></g>
<g id="b19" transform="translate(0,1062.7)"><text class="sp" x="251" y="4.5">Melopsittacus_undulatus_tph1</text><path class="ln" d="M494 0H787"/><use href="#ush" x="519"/><use href="#serg" x="555"/><use href="#tph" x="588.5"/><use href="#saal" x="623.5"/><use href="#hps" x="659"/><use href="#gtf" x="693.5"/><use href="#kcn" x="729"/><use href="#nuc" x="766"/><text class="acc" x="790" y="4.3">NW_004848280.1</text></g>
<g id="b20" transform="translate(0,1074.3)"><text class="sp" x="251" y="4.5">Opisthocomus_hoazin_tph1</text><path class="ln" d="M494 0H787"/><use href="#ush" x="519"/><use href="#tph" x="588.5"/><use href="#saal" x="623.5"/><use href="#hps" x="659"/><use href="#gtf" x="693.5"/><use href="#kcn" x="729"/><use href="#nuc" x="766"/><text class="acc" x="790" y="4.3">NW_009901368.1</text></g>
<g id="b21" transform="translate(0,1085.9)"><text class="sp" x="251" y="4.5">Struthio_camelus_tph1</text><path class="ln" d="M494 0H787"/><use href="#ush" x="519"/><use href="#serg" x="555"/><use href="#tph" x="588.5"/><use href="#saal" x="623.5"/><use href="#hps" x="659"/><use href="#gtf" x="693.5"/><use href="#kcn" x="729"/><use href="#nuc" x="766"/><text class="acc" x="790" y="4.3">NW_009270723.1</text></g>
<g id="b22" transform="translate(0,1097.6)"><text class="sp" x="251" y="4.5">Alligator_mississippiensis_tph1</text><path class="ln" d="M494 0H787"/><use href="#ush" x="519"/><use href="#serg" x="555"/><use href="#tph" x="588.5"/><use href="#saal" x="623.5"/><use href="#hps" x="659"/><use href="#gtf" x="693.5"/><use href="#kcn" x="729"/><use href="#nuc" x="766"/><text class="acc" x="790" y="4.3">NW_017713697.1</text></g>
<g id="b23" transform="translate(0,1109.2)"><text class="sp" x="251" y="4.5">Alligator_sinensis_tph1</text><path class="ln" d="M494 0H787"/><use href="#tph" x="588.5"/><use href="#saal" x="623.5"/><use href="#hps" x="659"/><use href="#gtf" x="693.5"/><text class="acc" x="790" y="4.3">NW_005842015.1</text></g>
<g id="b24" transform="translate(0,1120.8)"><text class="sp" x="251" y="4.5">Crocodylus_porosus_tph1</text><path class="ln" d="M494 0H787"/><use href="#ush" x="519"/><use href="#serg" x="555"/><use href="#tph" x="588.5"/><use href="#saal" x="623.5"/><use href="#hps" x="659"/><use href="#gtf" x="693.5"/><use href="#nuc" x="766"/><text class="acc" x="790" y="4.3">NW_017728947.1</text></g>
<g id="b25" transform="translate(0,1132.5)"><text class="sp" x="251" y="4.5">Gavialis_gangeticus_tph1</text><path class="ln" d="M494 0H787"/><use href="#ush" x="519"/><use href="#serg" x="555"/><use href="#tph" x="588.5"/><use href="#saal" x="623.5"/><use href="#hps" x="659"/><use href="#gtf" x="693.5"/><use href="#nuc" x="766"/><text class="acc" x="790" y="4.3">NW_017729025.1</text></g>
<g id="b26" transform="translate(0,1144.1)"><text class="sp" x="251" y="4.5">Anolis_carolinensis_tph1</text><path class="ln" d="M494 0H787"/><use href="#ush" x="519"/><use href="#serg" x="555"/><use href="#tph" x="588.5"/><use href="#saal" x="623.5"/><use href="#hps" x="659"/><use href="#gtf" x="693.5"/><use href="#nuc" x="766"/><text class="acc" x="790" y="4.3">NC_014776.1</text></g>
<g id="b27" transform="translate(0,1155.7)"><text class="sp" x="251" y="4.5">Ophiophagus_hannah_tph1</text><path class="ln" d="M494 0H787"/><use href="#serg" x="555"/><use href="#tph" x="588.5"/><use href="#saal" x="623.5"/><use href="#hps" x="659"/><use href="#gtf" x="693.5"/><text class="acc" x="790" y="4.3">AZIM01000731.1</text></g>
<g id="b28" transform="translate(0,1167.3)"><text class="sp" x="251" y="4.5">Gekko_japonicus_tph1</text><path class="ln" d="M494 0H787"/><use href="#tph" x="588.5"/><use href="#saal" x="623.5"/><use href="#hps" x="659"/><use href="#gtf" x="693.5"/><text class="acc" x="790" y="4.3">NW_015169834.1</text></g>
<g id="b29" transform="translate(0,1179)"><text class="sp" x="251" y="4.5">Chelonia_mydas_tph1</text><path class="ln" d="M494 0H787"/><use href="#ush" x="519"/><use href="#tph" x="588.5"/><use href="#saal" x="623.5"/><use href="#nuc" x="766"/><text class="acc" x="790" y="4.3">NW_006621632.1</text></g>
<g id="b30" transform="translate(0,1190.6)"><text class="sp" x="251" y="4.5">Chrysemys_picta_tph1</text><path class="ln" d="M494 0H787"/><use href="#ush" x="519"/><use href="#tph" x="588.5"/><text class="acc" x="790" y="4.3">NW_007281527.1</text></g>
<g id="b31" transform="translate(0,1202.2)"><text class="sp" x="251" y="4.5">Mus_musculus_tph1</text><path class="ln" d="M494 0H787"/><use href="#ush" x="519"/><use href="#serg" x="555"/><use href="#tph" x="588.5"/><use href="#saal" x="623.5"/><use href="#hps" x="659"/><use href="#gtf" x="693.5"/><use href="#kcn" x="729"/><use href="#nuc" x="766"/><text class="acc" x="790" y="4.3">NC_000073.6</text></g>
<g id="b32" transform="translate(0,1213.9)"><text class="sp" x="251" y="4.5">Rattus_norvegicus_tph1</text><path class="ln" d="M494 0H787"/><use href="#ush" x="519"/><use href="#serg" x="555"/><use href="#tph" x="588.5"/><use href="#saal" x="623.5"/><use href="#hps" x="659"/><use href="#gtf" x="693.5"/><use href="#kcn" x="729"/><use href="#nuc" x="766"/><text class="acc" x="790" y="4.3">NC_005100.4</text></g>
<g id="b33" transform="translate(0,1225.5)"><text class="sp" x="251" y="4.5">Fukomys_damarensis_tph1</text><path class="ln" d="M494 0H787"/><use href="#ush" x="519"/><use href="#serg" x="555"/><use href="#tph" x="588.5"/><use href="#saal" x="623.5"/><use href="#hps" x="659"/><use href="#gtf" x="693.5"/><use href="#kcn" x="729"/><use href="#nuc" x="766"/><text class="acc" x="790" y="4.3">NW_011047954.1</text></g>
<g id="b34" transform="translate(0,1237.1)"><text class="sp" x="251" y="4.5">Tupaia_chinensis_tph1</text><path class="ln" d="M494 0H787"/><use href="#ush" x="519"/><use href="#serg" x="555"/><use href="#tph" x="588.5"/><use href="#saal" x="623.5"/><use href="#hps" x="659"/><use href="#gtf" x="693.5"/><use href="#kcn" x="729"/><use href="#nuc" x="766"/><text class="acc" x="790" y="4.3">NW_006159538.1</text></g>
<g id="b35" transform="translate(0,1248.8)"><text class="sp" x="251" y="4.5">Balaenoptera_acutorostrata_tph1</text><path class="ln" d="M494 0H787"/><use href="#ush" x="519"/><use href="#tph" x="588.5"/><use href="#saal" x="623.5"/><use href="#hps" x="659"/><use href="#gtf" x="693.5"/><use href="#kcn" x="729"/><use href="#nuc" x="766"/><text class="acc" x="790" y="4.3">NW_006726131.1</text></g>
<g id="b36" transform="translate(0,1260.4)"><text class="sp" x="251" y="4.5">Physeter_catodon_tph1</text><path class="ln" d="M494 0H787"/><use href="#ush" x="519"/><use href="#tph" x="588.5"/><use href="#saal" x="623.5"/><use href="#hps" x="659"/><use href="#gtf" x="693.5"/><use href="#kcn" x="729"/><use href="#nuc" x="766"/><text class="acc" x="790" y="4.3">NW_019873551.1</text></g>
<g id="b37" transform="translate(0,1272)"><text class="sp" x="251" y="4.5">Bos_taurus_tph1</text><path class="ln" d="M494 0H787"/><use href="#ush" x="519"/><use href="#tph" x="588.5"/><use href="#saal" x="623.5"/><use href="#kcn" x="729"/><use href="#nuc" x="766"/><text class="acc" x="790" y="4.3">AC_000172.1</text></g>
<g id="b38" transform="translate(0,1283.6)"><text class="sp" x="251" y="4.5">Ailuropoda_melanoleuca_tph1</text><path class="ln" d="M494 0H787"/><use href="#serg" x="555"/><use href="#tph" x="588.5"/><use href="#saal" x="623.5"/><use href="#kcn" x="729"/><text class="acc" x="790" y="4.3">NW_003218874.1</text></g>
<g id="b39" transform="translate(0,1295.3)"><text class="sp" x="251" y="4.5">Homo_sapiens_tph1</text><path class="ln" d="M494 0H787"/><use href="#ush" x="519"/><use href="#tph" x="588.5"/><use href="#saal" x="623.5"/><use href="#hps" x="659"/><use href="#gtf" x="693.5"/><use href="#kcn" x="729"/><use href="#nuc" x="766"/><text class="acc" x="790" y="4.3">NC_000011.10</text></g>
<g id="b40" transform="translate(0,1306.9)"><text class="sp" x="251" y="4.5">Pan_paniscus_tph1</text><path class="ln" d="M494 0H787"/><use href="#ush" x="519"/><use href="#tph" x="588.5"/><use href="#saal" x="623.5"/><use href="#hps" x="659"/><use href="#gtf" x="693.5"/><use href="#kcn" x="729"/><use href="#nuc" x="766"/><text class="acc" x="790" y="4.3">NC_027879.1</text></g>
<g id="b41" transform="translate(0,1318.5)"><text class="sp" x="251" y="4.5">Macaca_fascicularis_tph1</text><path class="ln" d="M494 0H787"/><use href="#ush" x="519"/><use href="#tph" x="588.5"/><use href="#saal" x="623.5"/><use href="#hps" x="659"/><use href="#gtf" x="693.5"/><use href="#kcn" x="729"/><use href="#nuc" x="766"/><text class="acc" x="790" y="4.3">NC_022285.1</text></g>
<g id="b42" transform="translate(0,1330.2)"><text class="sp" x="251" y="4.5">Callorhynchus_milii_tph1</text><path class="ln" d="M494 0H787"/><use href="#fib" x="519"/><use href="#tph" x="588.5"/><use href="#saal" x="623.5"/><text class="acc" x="790" y="4.3">NW_006890061.1</text></g>
</g>
<g id="groups">
<path class="br" d="M885 53.3H903V332H885"/>
<path class="br" d="M885 376H903V667H885"/>
<path class="br" d="M990 53.6H1009V797H993"/>
<path class="br" d="M868 687H873V703H868"/>
<path class="br" d="M877 708H886V795H877"/>
<path class="br" d="M908 842.7H914V876.7H908"/>
<path class="br" d="M908 890H914V1086.7H908"/>
<path class="br" d="M908 1098H914V1189H908"/>
<path class="br" d="M908 1203H914V1319H908"/>
<path class="br" d="M992 842H1009V1320H992M1009 1081H1015"/>
<text class="bl" style="font-size:16px" transform="translate(910,187) rotate(90)" text-anchor="middle">Teleosts-<tspan class="it">tph1a</tspan></text>
<text class="bl" style="font-size:16px" transform="translate(910,497) rotate(90)" text-anchor="middle">Teleosts-<tspan class="it">tph1b</tspan></text>
<text class="big" transform="translate(1018,413) rotate(90)" text-anchor="middle">Actinopterygii-<tspan class="it">tph1</tspan></text>
<text class="big" transform="translate(1018,1093) rotate(90)" text-anchor="middle">Tetrapods-<tspan class="it">tph1</tspan></text>
<text class="bl" style="font-size:16px" x="870" y="685">Spotted_gar-<tspan class="it">tph1</tspan></text>
<text class="bl" style="font-size:16px" x="877" y="703">Paddlefish-<tspan class="it">tph1</tspan></text>
<text class="bl" style="font-size:16px" x="888" y="757">Sturgeon-<tspan class="it">tph1</tspan></text>
<text class="bl" x="917" y="866">Amphibians</text>
<text class="bl" x="918" y="982">Birds</text>
<text class="bl" x="919" y="1144">Reptiles</text>
<text class="bl" x="919" y="1262">Mammals</text>
</g>
</svg>
